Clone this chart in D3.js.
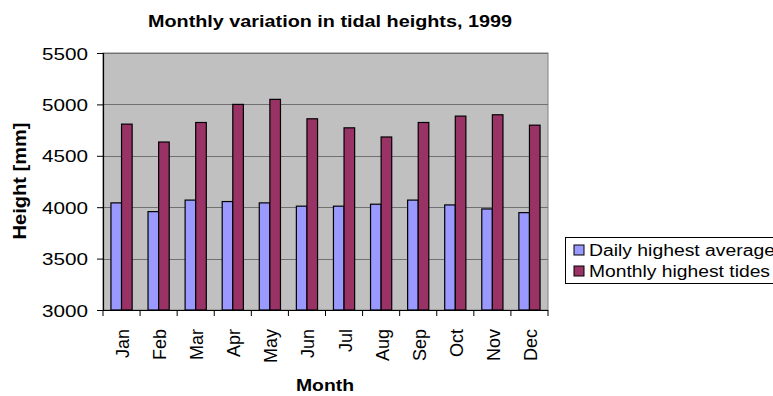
<!DOCTYPE html>
<html>
<head>
<meta charset="utf-8">
<script src="https://cdn.jsdelivr.net/npm/d3@7/dist/d3.min.js"></script>
<style>
  html, body { margin: 0; padding: 0; background: #fff; }
  svg { display: block; font-family: Arial, "Liberation Sans", sans-serif; }
</style>
</head>
<body>
<svg id="chart" width="773" height="396"></svg>
<script>
// Tidal heights per month, 1999 (mm)
const months = ["Jan","Feb","Mar","Apr","May","Jun","Jul","Aug","Sep","Oct","Nov","Dec"];
const dailyHighestAverage = [4042, 3957, 4069, 4055, 4042, 4010, 4010, 4029, 4069, 4022, 3983, 3947];
const monthlyHighestTides = [4808, 4634, 4824, 5000, 5049, 4860, 4772, 4683, 4824, 4886, 4899, 4798];
const seriesNames = ["Daily highest average", "Monthly highest tides"];
const yTicks = [3000, 3500, 4000, 4500, 5000, 5500];

const colors = ["#9999FF", "#993366"];
const svg = d3.select("#chart");

const plot = { left: 103, right: 548, top: 53, bottom: 310 };

const x = d3.scaleBand().domain(months).range([plot.left, plot.right]).paddingInner(0).paddingOuter(0);
const inner = d3.scaleBand().domain([0, 1]).range([0, x.bandwidth()]).paddingInner(0).paddingOuter(0.75);
const y = d3.scaleLinear().domain([3000, 5500]).range([plot.bottom, plot.top]);

// plot area
svg.append("rect")
  .attr("x", plot.left).attr("y", plot.top)
  .attr("width", plot.right - plot.left).attr("height", plot.bottom - plot.top)
  .attr("fill", "#C0C0C0").attr("stroke", "#808080").attr("stroke-width", 1);

// gridlines
svg.append("g").selectAll("line").data(yTicks.slice(1)).join("line")
  .attr("x1", plot.left).attr("x2", plot.right)
  .attr("y1", d => Math.round(y(d)) + 0.5).attr("y2", d => Math.round(y(d)) + 0.5)
  .attr("stroke", "#707070").attr("stroke-width", 1.2);

// bars
const series = [dailyHighestAverage, monthlyHighestTides];
series.forEach((vals, si) => {
  svg.append("g").selectAll("rect").data(vals).join("rect")
    .attr("x", (d, i) => x(months[i]) + inner(si))
    .attr("y", d => y(d))
    .attr("width", inner.bandwidth())
    .attr("height", d => y(3000) - y(d))
    .attr("fill", colors[si])
    .attr("stroke", "#000").attr("stroke-width", 1.2);
});

// y axis
const yAxis = d3.axisLeft(y).tickValues(yTicks).tickSize(6).tickFormat(d3.format("d"));
const gy = svg.append("g").attr("transform", `translate(${plot.left},0)`).call(yAxis);
gy.select(".domain").attr("stroke", "#000").attr("stroke-width", 1.2);
gy.selectAll(".tick line").attr("stroke", "#000");
gy.selectAll(".tick text")
  .attr("x", -15).attr("dy", "0.36em")
  .attr("font-size", 17).attr("fill", "#000")
  .attr("font-family", "Arial, 'Liberation Sans', sans-serif")
  .attr("textLength", 46).attr("lengthAdjust", "spacingAndGlyphs");

// x axis with ticks at category boundaries
const gx = svg.append("g").attr("transform", `translate(0,${plot.bottom})`);
gx.append("line").attr("x1", plot.left).attr("x2", plot.right).attr("y1", 0.5).attr("y2", 0.5)
  .attr("stroke", "#000").attr("stroke-width", 1.2);
const bounds = months.map(m => x(m)).concat([plot.right]);
gx.selectAll("line.tk").data(bounds).join("line").attr("class", "tk")
  .attr("x1", d => d).attr("x2", d => d).attr("y1", 0).attr("y2", 6)
  .attr("stroke", "#000");
gx.selectAll("text").data(months).join("text")
  .attr("transform", d => `translate(${x(d) + x.bandwidth() / 2 + 1},19) rotate(-90)`)
  .attr("text-anchor", "end").attr("dy", "0.36em")
  .attr("font-size", 18).attr("fill", "#000")
  .text(d => d);

// titles
svg.append("text").attr("x", 330).attr("y", 27).attr("text-anchor", "middle")
  .attr("font-size", 16).attr("font-weight", "bold")
  .attr("textLength", 364).attr("lengthAdjust", "spacingAndGlyphs")
  .text("Monthly variation in tidal heights, 1999");

svg.append("text").attr("x", 325).attr("y", 391).attr("text-anchor", "middle")
  .attr("font-size", 17).attr("font-weight", "bold")
  .attr("textLength", 58).attr("lengthAdjust", "spacingAndGlyphs")
  .text("Month");

svg.append("text").attr("transform", "translate(26,181) rotate(-90)")
  .attr("text-anchor", "middle")
  .attr("font-size", 18).attr("font-weight", "bold")
  .attr("textLength", 117).attr("lengthAdjust", "spacingAndGlyphs")
  .text("Height [mm]");

// legend
const lg = svg.append("g").attr("transform", "translate(565,237)");
lg.append("rect").attr("x", 0.5).attr("y", 0.5).attr("width", 240).attr("height", 46)
  .attr("fill", "#fff").attr("stroke", "#000").attr("stroke-width", 1);
const items = lg.selectAll("g.item").data(seriesNames).join("g").attr("class", "item")
  .attr("transform", (d, i) => `translate(9,${13 + i * 21})`);
items.append("rect").attr("x", 0).attr("y", -5).attr("width", 10).attr("height", 10)
  .attr("fill", (d, i) => colors[i]).attr("stroke", "#000");
items.append("text").attr("x", 15).attr("dy", "0.36em")
  .attr("font-size", 16).attr("fill", "#000")
  .attr("textLength", (d, i) => i === 0 ? 186 : 181).attr("lengthAdjust", "spacingAndGlyphs")
  .text(d => d);
</script>
</body>
</html>
